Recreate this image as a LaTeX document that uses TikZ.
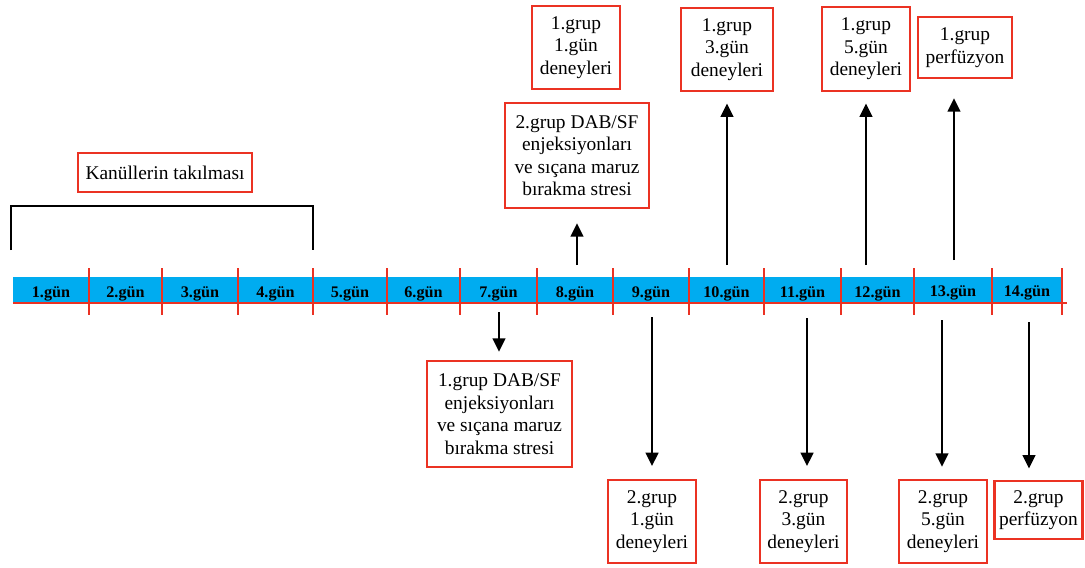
\documentclass[tikz,border=0pt]{standalone}
\usepackage{fontspec}
\setmainfont{Liberation Serif}
\usetikzlibrary{arrows.meta}
\definecolor{boxred}{RGB}{235,50,35}
\definecolor{barblue}{RGB}{0,172,240}
\tikzset{
  tbox/.style={draw=boxred, line width=1.8pt, fill=white, align=center, inner sep=0pt,
    font=\fontsize{13.8}{16}\selectfont},
  dayl/.style={font=\bfseries\fontsize{11.5}{13}\selectfont, inner sep=0pt},
  arr/.style={line width=1.6pt, -{Triangle[width=9pt,length=9.5pt]}},
  tick/.style={draw=boxred, line width=1.5pt},
}
\begin{document}
\begin{tikzpicture}[x=0.025cm,y=-0.025cm]
\useasboundingbox (0,0) rectangle (1085,567);
% bar
\fill[barblue] (13,277) rectangle (1062,303);
\draw[boxred, line width=1.8pt] (13,303) -- (1067,303);
\foreach \x in {89,162,238,313,387,460,537,613,689,764,841,914,992,1062}
  \draw[tick] (\x,268) -- (\x,315);
% day labels
\node[dayl] (d1) at (51,294) {1.gün};
\node[dayl] (d2) at (125.5,294) {2.gün};
\node[dayl] (d3) at (200,294) {3.gün};
\node[dayl] (d4) at (275.5,294) {4.gün};
\node[dayl] (d5) at (350,294) {5.gün};
\node[dayl] (d6) at (423.5,294) {6.gün};
\node[dayl] (d7) at (498.5,294) {7.gün};
\node[dayl] (d8) at (575,294) {8.gün};
\node[dayl] (d9) at (651,294) {9.gün};
\node[dayl] (d10) at (726.5,294) {10.gün};
\node[dayl] (d11) at (802.5,294) {11.gün};
\node[dayl] (d12) at (877.5,294) {12.gün};
\node[dayl] (d13) at (953,293) {13.gün};
\node[dayl] (d14) at (1027,293) {14.gün};
% bracket
\draw[line width=1.8pt] (11,250) -- (11,206) -- (313,206) -- (313,250);
% boxes
\node[tbox, minimum width=4.35cm, minimum height=0.975cm] (kan) at (165,172.5) {Kanüllerin takılması};
\node[tbox, minimum width=2.2cm, minimum height=2.075cm] (g1d1) at (576,47.5) {1.grup\\1.gün\\deneyleri};
\node[tbox, minimum width=3.6cm, minimum height=2.625cm] (g2dab) at (577,155.5) {2.grup DAB/SF\\enjeksiyonları\\ve sıçana maruz\\bırakma stresi};
\node[tbox, minimum width=2.3cm, minimum height=2.075cm] (g1d3) at (727,49.5) {1.grup\\3.gün\\deneyleri};
\node[tbox, minimum width=2.2cm, minimum height=2.1cm] (g1d5) at (866,49) {1.grup\\5.gün\\deneyleri};
\node[tbox, minimum width=2.35cm, minimum height=1.525cm] (g1p) at (965,47.5) {1.grup\\perfüzyon};
\node[tbox, minimum width=3.625cm, minimum height=2.65cm] (g1dab) at (499.5,414) {1.grup DAB/SF\\enjeksiyonları\\ve sıçana maruz\\bırakma stresi};
\node[tbox, minimum width=2.2cm, minimum height=2.075cm] (g2d1) at (652,521.5) {2.grup\\1.gün\\deneyleri};
\node[tbox, minimum width=2.175cm, minimum height=2.075cm] (g2d3) at (803.5,521.5) {2.grup\\3.gün\\deneyleri};
\node[tbox, minimum width=2.2cm, minimum height=2.075cm] (g2d5) at (943,521.5) {2.grup\\5.gün\\deneyleri};
\node[tbox, minimum width=2.2cm, minimum height=1.45cm] (g2p) at (1038.5,510) {2.grup\\perfüzyon};
% arrow tails
\coordinate (u8) at (577,265);
\coordinate (u10) at (727,265);
\coordinate (u12) at (866,265);
\coordinate (u13) at (954,260);
\coordinate (l7) at (499,312);
\coordinate (l9) at (652,317);
\coordinate (l11) at (807,318);
\coordinate (l13) at (942,320);
\coordinate (l14) at (1029,322);
% arrows
\draw[arr, shorten >=10pt] (u8) -- (u8 |- g2dab.south);
\draw[arr, shorten >=8pt] (u10) -- (u10 |- g1d3.south);
\draw[arr, shorten >=8pt] (u12) -- (u12 |- g1d5.south);
\draw[arr, shorten >=13.5pt] (u13) -- (u13 |- g1p.south);
\draw[arr, shorten >=5.7pt] (l7) -- (l7 |- g1dab.north);
\draw[arr, shorten >=9pt] (l9) -- (l9 |- g2d1.north);
\draw[arr, shorten >=9pt] (l11) -- (l11 |- g2d3.north);
\draw[arr, shorten >=8.5pt] (l13) -- (l13 |- g2d5.north);
\draw[arr, shorten >=8pt] (l14) -- (l14 |- g2p.north);
\end{tikzpicture}
\end{document}
